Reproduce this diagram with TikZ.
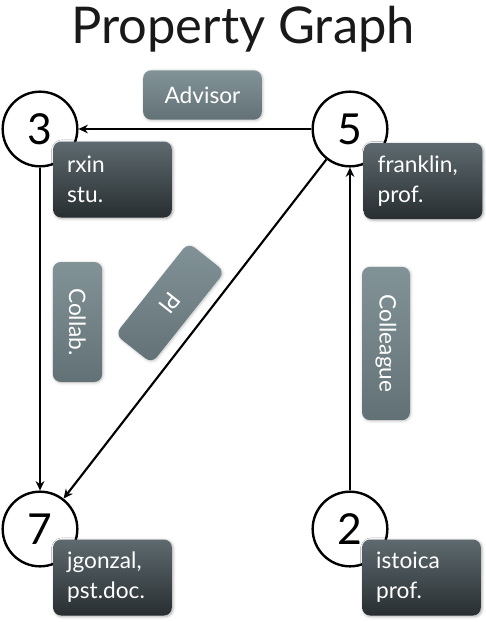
\documentclass[tikz,border=0pt]{standalone}
\usepackage{fontspec}
\setmainfont{Lato}
\usetikzlibrary{arrows.meta}
\usetikzlibrary{shadows.blur}

\definecolor{darktop}{RGB}{94,106,111}
\definecolor{darkbot}{RGB}{40,46,49}
\definecolor{lighttop}{RGB}{130,147,152}
\definecolor{lightbot}{RGB}{98,113,118}

\tikzset{
	vertex/.style={circle,draw,line width=1.8pt,fill=white,minimum size=56pt,inner sep=0pt,font=\fontsize{32}{32}\selectfont},
	infobox/.style={rounded corners=6pt,top color=darktop,bottom color=darkbot,text=white,align=left,minimum width=89pt,minimum height=57pt,text width=68pt,inner sep=0pt,font=\fontsize{17}{22.5}\selectfont,blur shadow={shadow xshift=0.8pt,shadow yshift=-0.8pt,shadow blur steps=4,shadow opacity=35}},
	relbox/.style={rounded corners=6pt,top color=lighttop,bottom color=lightbot,text=white,inner sep=0pt,font=\fontsize{17}{17}\selectfont,blur shadow={shadow xshift=0.6pt,shadow yshift=-0.6pt,shadow blur steps=4,shadow opacity=25}},
	edge/.style={line width=1.6pt,-{Stealth[length=7pt,width=6.5pt]}}
}

\begin{document}
\begin{tikzpicture}[x=0.75pt,y=0.75pt,yscale=-1,xscale=1]
	\useasboundingbox (0,0) rectangle (486,622);
	
	% Title
	\node (title) at (243,29) [font=\fontsize{38}{38}\selectfont,color={rgb, 255:red, 25; green, 25; blue, 25 }] {Property Graph};
	
	% Vertices
	\node (v3) at (40,129) [vertex] {3};
	\node (v5) at (350,129) [vertex] {5};
	\node (v7) at (40,529) [vertex] {7};
	\node (v2) at (350,529) [vertex] {2};
	
	% Edges
	\draw [edge] (v5) -- (v3);
	\draw [edge] (v3) -- (v7);
	\draw [edge] (v5) -- (v7);
	\draw [edge] (v2) -- (v5);
	
	% Vertex properties
	\node (p3) at (112.5,179.5) [infobox] {rxin\\stu.};
	\node (p5) at (423,181) [infobox] {franklin,\\prof.};
	\node (p7) at (112.5,577.5) [infobox] {jgonzal,\\pst.doc.};
	\node (p2) at (421.5,577.5) [infobox] {istoica\\prof.};
	
	% Edge properties
	\node (advisor) at (202.5,95) [relbox,minimum width=89pt,minimum height=37pt] {Advisor};
	\node (collab) at (77.5,322) [relbox,minimum width=90pt,minimum height=37pt,rotate=-90] {Collab.};
	\node (pi) at (170,303) [relbox,minimum width=88pt,minimum height=35pt,rotate=-128.5] {PI};
	\node (colleague) at (386,343.5) [relbox,minimum width=115pt,minimum height=36pt,rotate=-90] {Colleague};
	
\end{tikzpicture}
\end{document}
